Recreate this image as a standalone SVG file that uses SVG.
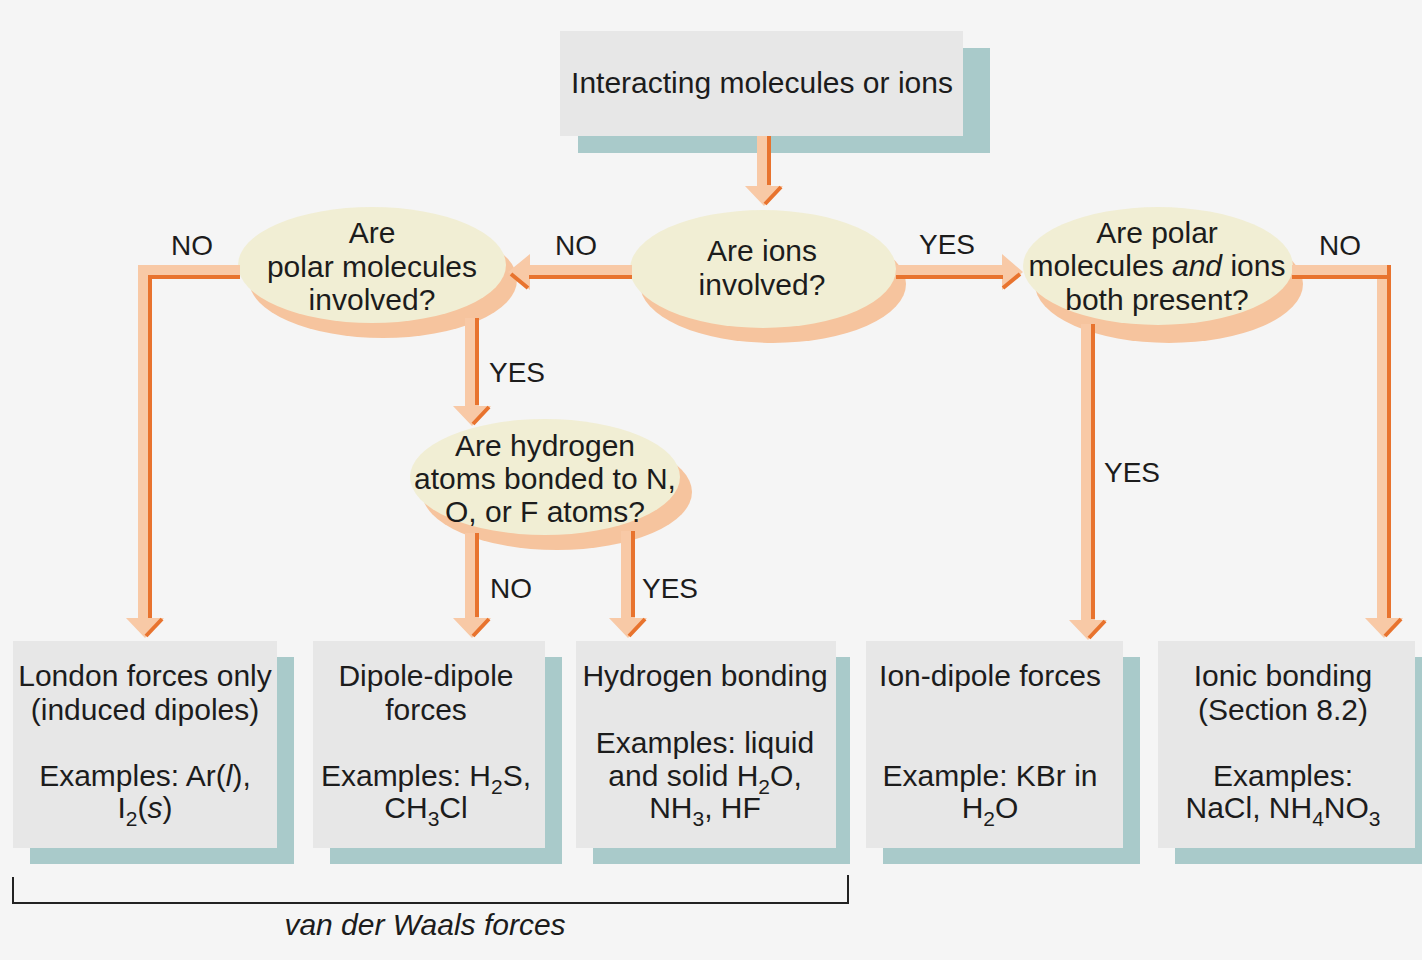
<svg xmlns="http://www.w3.org/2000/svg" width="1422" height="960" viewBox="0 0 1422 960">
<style>
text{font-family:"Liberation Sans",Arial,sans-serif;fill:#1c1c1c;text-anchor:middle}
.t{font-size:30px}
.l{font-size:28px}
.box{fill:#e7e7e7}
.bsh{fill:#a9caca}
.ell{fill:#f1eed4}
.esh{fill:#f6c49e}
.sh{fill:#f8c9a6;stroke:none}
.or{stroke:#e8732e;stroke-width:4;fill:none}
.pk{stroke:#f8c9a6;stroke-width:14;fill:none}
</style>
<rect width="1422" height="960" fill="#f5f5f5"/>

<g id="top">
<rect class="bsh" x="578" y="48" width="412" height="105"/>
<rect class="box" x="560" y="31" width="403" height="105"/>
<text class="t" x="762" y="93">Interacting molecules or ions</text>
</g>

<g id="ions">
<ellipse class="esh" cx="773" cy="284" rx="133" ry="59"/>
<ellipse class="ell" cx="763" cy="269" rx="133" ry="59"/>
<text class="t" x="762" y="261">Are ions</text>
<text class="t" x="762" y="295">involved?</text>
</g>

<g id="polar">
<ellipse class="esh" cx="383" cy="280" rx="134" ry="58"/>
<ellipse class="ell" cx="372" cy="265" rx="134" ry="58"/>
<text class="t" x="372" y="243">Are</text>
<text class="t" x="372" y="277">polar molecules</text>
<text class="t" x="372" y="310">involved?</text>
</g>

<g id="both">
<ellipse class="esh" cx="1169" cy="284" rx="134" ry="59"/>
<ellipse class="ell" cx="1158" cy="266" rx="135" ry="59"/>
<text class="t" x="1157" y="243">Are polar</text>
<text class="t" x="1157" y="276">molecules <tspan font-style="italic">and</tspan> ions</text>
<text class="t" x="1157" y="310">both present?</text>
</g>

<g id="hydrogen">
<ellipse class="esh" cx="557" cy="492" rx="135" ry="58"/>
<ellipse class="ell" cx="545" cy="477" rx="135" ry="58"/>
<text class="t" x="545" y="456">Are hydrogen</text>
<text class="t" x="545" y="489">atoms bonded to N,</text>
<text class="t" x="545" y="522">O, or F atoms?</text>
</g>

<g id="london">
<rect class="bsh" x="30" y="657" width="264" height="207"/>
<rect class="box" x="13" y="641" width="264" height="207"/>
<text class="t" x="145" y="686">London forces only</text>
<text class="t" x="145" y="720">(induced dipoles)</text>
<text class="t" x="145" y="786">Examples: Ar(<tspan font-style="italic">l</tspan>),</text>
<text class="t" x="145" y="818">I<tspan font-size="21" dy="8">2</tspan><tspan dy="-8">(</tspan><tspan font-style="italic">s</tspan>)</text>
</g>

<g id="dipole">
<rect class="bsh" x="330" y="657" width="232" height="207"/>
<rect class="box" x="313" y="641" width="232" height="207"/>
<text class="t" x="426" y="686">Dipole-dipole</text>
<text class="t" x="426" y="720">forces</text>
<text class="t" x="426" y="786">Examples: H<tspan font-size="21" dy="8">2</tspan><tspan dy="-8">S,</tspan></text>
<text class="t" x="426" y="818">CH<tspan font-size="21" dy="8">3</tspan><tspan dy="-8">Cl</tspan></text>
</g>

<g id="hbond">
<rect class="bsh" x="593" y="657" width="257" height="207"/>
<rect class="box" x="576" y="641" width="260" height="207"/>
<text class="t" x="705" y="686">Hydrogen bonding</text>
<text class="t" x="705" y="753">Examples: liquid</text>
<text class="t" x="705" y="786">and solid H<tspan font-size="21" dy="8">2</tspan><tspan dy="-8">O,</tspan></text>
<text class="t" x="705" y="818">NH<tspan font-size="21" dy="8">3</tspan><tspan dy="-8">, HF</tspan></text>
</g>

<g id="iondipole">
<rect class="bsh" x="883" y="657" width="257" height="207"/>
<rect class="box" x="866" y="641" width="257" height="207"/>
<text class="t" x="990" y="686">Ion-dipole forces</text>
<text class="t" x="990" y="786">Example: KBr in</text>
<text class="t" x="990" y="818">H<tspan font-size="21" dy="8">2</tspan><tspan dy="-8">O</tspan></text>
</g>

<g id="ionic">
<rect class="bsh" x="1175" y="657" width="247" height="207"/>
<rect class="box" x="1158" y="641" width="257" height="207"/>
<text class="t" x="1283" y="686">Ionic bonding</text>
<text class="t" x="1283" y="720">(Section 8.2)</text>
<text class="t" x="1283" y="786">Examples:</text>
<text class="t" x="1283" y="818">NaCl, NH<tspan font-size="21" dy="8">4</tspan><tspan dy="-8">NO</tspan><tspan font-size="21" dy="8">3</tspan></text>
</g>

<g id="connectors">
<!-- top to ions -->
<path class="sh" d="M757 136H771V186H783L764 206L745 186H757Z"/>
<path class="or" d="M769 136V185M781 187L765 204"/>
<!-- ions NO to polar -->
<path class="sh" d="M632 265V279H530V290L508 272L530 254V265Z"/>
<path class="or" d="M632 277H529M528 288L511 274"/>
<!-- ions YES to both -->
<path class="sh" d="M896 265H1002V254L1023 272L1002 290V279H896Z"/>
<path class="or" d="M896 277H1003M1003 288L1020 274"/>
<!-- polar NO to london -->
<path class="pk" d="M240 272H145V619"/>
<path class="or" d="M240 277H150V619"/>
<path class="sh" d="M126 618H164L145 638Z"/>
<path class="or" d="M162 619L146 636"/>
<!-- polar YES to hydrogen -->
<path class="sh" d="M465 318H479V406H491L472 426L453 406H465Z"/>
<path class="or" d="M477 318V405M489 407L473 424"/>
<!-- hydrogen NO to dipole -->
<path class="sh" d="M465 533H479V618H491L472 638L453 618H465Z"/>
<path class="or" d="M477 533V617M489 619L473 636"/>
<!-- hydrogen YES to hbond -->
<path class="sh" d="M621 531H635V618H647L628 638L609 618H621Z"/>
<path class="or" d="M633 531V617M645 619L629 636"/>
<!-- both YES to iondipole -->
<path class="sh" d="M1081 324H1095V620H1107L1088 640L1069 620H1081Z"/>
<path class="or" d="M1093 324V619M1105 621L1089 638"/>
<!-- both NO to ionic -->
<path class="pk" d="M1292 272H1384V619"/>
<path class="or" d="M1292 277H1389M1389 265V619"/>
<path class="sh" d="M1365 618H1403L1384 638Z"/>
<path class="or" d="M1401 619L1385 636"/>
</g>

<g id="labels">
<text class="l" x="192" y="255">NO</text>
<text class="l" x="576" y="255">NO</text>
<text class="l" x="947" y="254">YES</text>
<text class="l" x="1340" y="255">NO</text>
<text class="l" x="517" y="382">YES</text>
<text class="l" x="511" y="598">NO</text>
<text class="l" x="670" y="598">YES</text>
<text class="l" x="1132" y="482">YES</text>
</g>

<g id="bracket">
<path d="M13 877V903H848V875" fill="none" stroke="#222" stroke-width="2"/>
<text class="t" x="425" y="935" font-style="italic">van der Waals forces</text>
</g>
</svg>
